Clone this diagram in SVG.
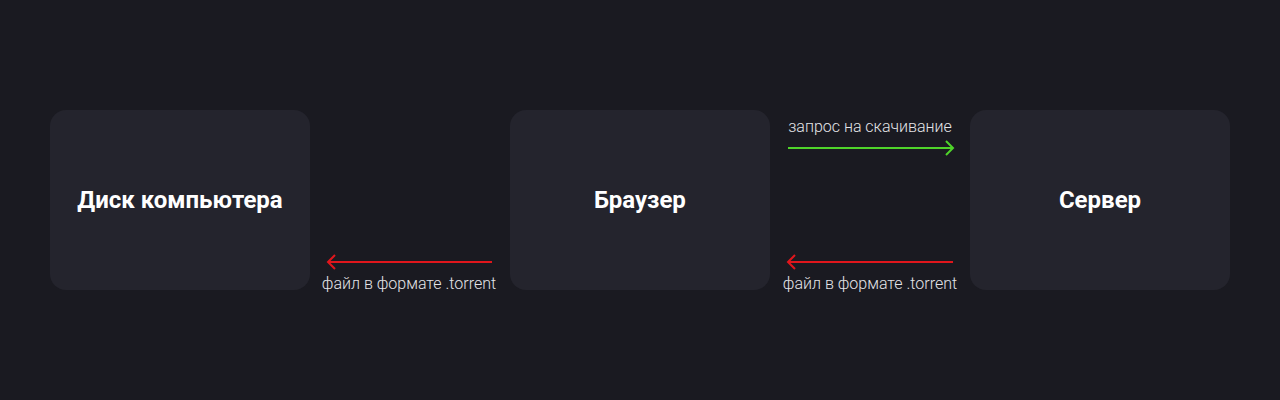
<svg xmlns="http://www.w3.org/2000/svg" width="1280" height="400" viewBox="0 0 1280 400">
<defs>
<style>
.box{fill:#24242d}
.title{font-family:Roboto,"Noto Sans",sans-serif;font-weight:700;font-size:24px;fill:#ffffff;text-anchor:middle}
.lbl{font-family:Roboto,"Noto Sans",sans-serif;font-weight:300;font-size:16px;fill:#e4e4e8;text-anchor:middle}
.green{stroke:#4fd42a;stroke-width:2;fill:none}
.red{stroke:#e0161c;stroke-width:2;fill:none}
</style>
</defs>
<rect width="1280" height="400" fill="#1a1a21"/>
<g id="disk"><rect class="box" x="50" y="110" width="260" height="180" rx="16"/><text class="title" x="180" y="208">Диск компьютера</text></g>
<g id="browser"><rect class="box" x="510" y="110" width="260" height="180" rx="16"/><text class="title" x="640" y="208">Браузер</text></g>
<g id="server"><rect class="box" x="970" y="110" width="260" height="180" rx="16"/><text class="title" x="1100" y="208">Сервер</text></g>
<g id="connectors">
<line class="green" x1="788" y1="148" x2="953" y2="148"/>
<polyline class="green" points="946,141 953,148 946,155"/>
<text class="lbl" x="870" y="132">запрос на скачивание</text>
<line class="red" x1="328" y1="262" x2="492" y2="262"/>
<polyline class="red" points="335,255 328,262 335,269"/>
<text class="lbl" x="409" y="289">файл в формате .torrent</text>
<line class="red" x1="788" y1="262" x2="953" y2="262"/>
<polyline class="red" points="795,255 788,262 795,269"/>
<text class="lbl" x="870" y="289">файл в формате .torrent</text>
</g>
</svg>
